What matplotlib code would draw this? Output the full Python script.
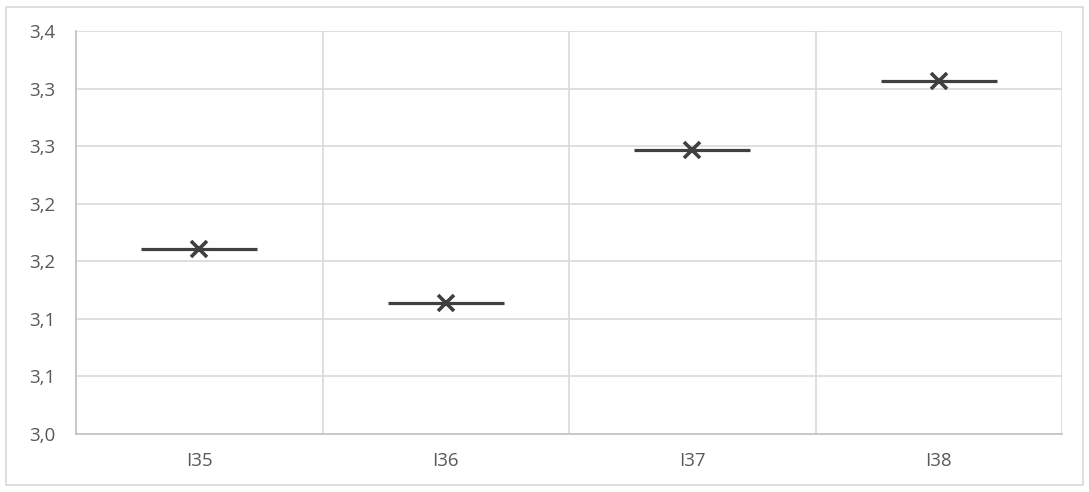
import matplotlib
matplotlib.use("Agg")
import matplotlib.pyplot as plt
from matplotlib.patches import Rectangle

categories = ["I35", "I36", "I37", "I38"]
values = [3.161, 3.114, 3.247, 3.307]
y_ticks = [3.00, 3.05, 3.10, 3.15, 3.20, 3.25, 3.30, 3.35]
y_tick_labels = ["3,0", "3,1", "3,1", "3,2", "3,2", "3,3", "3,3", "3,4"]

plt.rcParams['font.family'] = ['Open Sans', 'DejaVu Sans']

fig = plt.figure(figsize=(10.89, 4.92), dpi=100)
fig.patches.append(Rectangle((6/1089, 7/492), 1077/1089, 478/492, transform=fig.transFigure,
                             fill=False, edgecolor='#d9d9d9', linewidth=1.2))
ax = fig.add_axes([76/1089, 58/492, 986/1089, 403/492])

x = list(range(len(categories)))
ax.set_xlim(-0.5, len(categories) - 0.5)
ax.set_ylim(y_ticks[0], y_ticks[-1])

for yt in y_ticks[1:]:
    ax.axhline(yt, color='#d9d9d9', linewidth=1.2, zorder=0)
for i in range(len(categories)):
    ax.axvline(i + 0.5, color='#d9d9d9', linewidth=1.2, zorder=0)

ax.hlines(values, [xi - 0.235 for xi in x], [xi + 0.235 for xi in x],
          colors='#404040', linewidth=2.3, zorder=3)
ax.plot(x, values, linestyle='none', marker='x', markersize=12,
        markeredgewidth=2.6, color='#404040', zorder=4)

ax.set_xticks(x)
ax.set_xticklabels(categories)
ax.set_yticks(y_ticks)
ax.set_yticklabels(y_tick_labels)
ax.tick_params(axis='both', length=0, labelsize=13.5, labelcolor='#595959')
ax.tick_params(axis='x', pad=13)
ax.tick_params(axis='y', pad=15)

for side in ['top', 'right']:
    ax.spines[side].set_visible(False)
for side in ['left', 'bottom']:
    ax.spines[side].set_color('#bfbfbf')
    ax.spines[side].set_linewidth(1.2)

fig.savefig("out.png", dpi=100)
